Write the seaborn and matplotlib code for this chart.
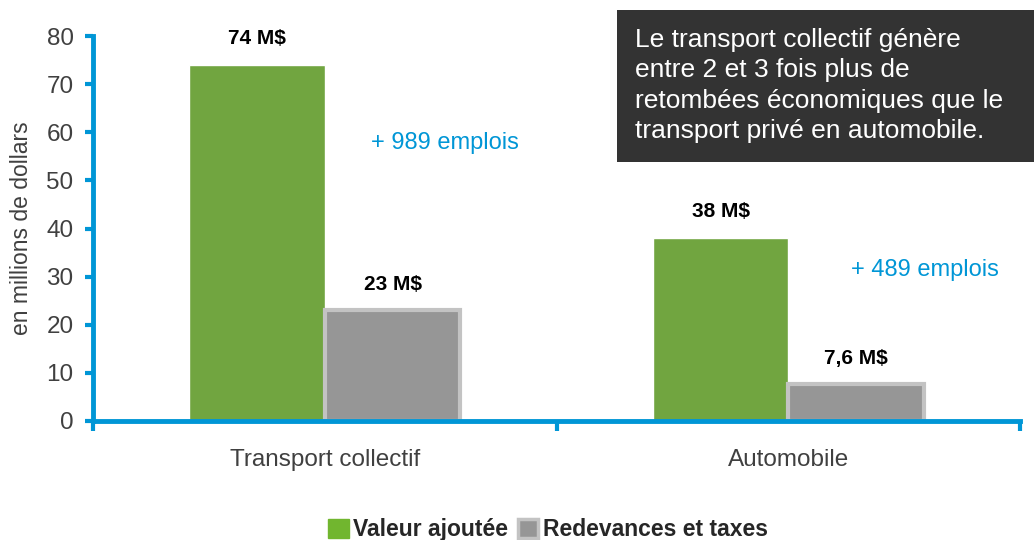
import matplotlib.pyplot as plt
import pandas as pd
import seaborn as sns
from matplotlib.patches import Patch, Rectangle

# data
categories = ["Transport collectif", "Automobile"]
series = ["Valeur ajoutée", "Redevances et taxes"]
valeur_ajoutee = [74, 38]
redevances = [23, 7.6]
bar_labels = {"Valeur ajoutée": ["74 M$", "38 M$"],
              "Redevances et taxes": ["23 M$", "7,6 M$"]}
emplois = ["+ 989 emplois", "+ 489 emplois"]
note = ("Le transport collectif génère\nentre 2 et 3 fois plus de\n"
        "retombées économiques que le\ntransport privé en automobile.")

df = pd.DataFrame({
    "categorie": categories * 2,
    "serie": [series[0]] * 2 + [series[1]] * 2,
    "valeur": valeur_ajoutee + redevances,
})

sns.set_style("white")
plt.rcParams["font.family"] = ["Liberation Sans", "DejaVu Sans"]

green = "#71b62f"
gray = "#969696"
gray_edge = "#c3c3c3"
blue = "#0096d6"
txt = "#404040"

fig, ax = plt.subplots(figsize=(10.34, 5.4), dpi=100)
fig.subplots_adjust(left=0.09, right=0.9865, bottom=0.2204, top=0.9333)

sns.barplot(data=df, x="categorie", y="valeur", hue="serie",
            palette=[green, gray], width=0.585, gap=0, ax=ax, legend=False)

# gray bars get a lighter border
for c, name in zip(ax.containers, series):
    if name == series[1]:
        for p in c.patches:
            p.set_edgecolor(gray_edge)
            p.set_linewidth(3)
    ax.bar_label(c, labels=bar_labels[name], padding=12,
                 fontsize=15, fontweight="bold", color="black")

ax.set_xlim(-0.5, 1.5)
ax.set_ylim(0, 80)
ax.set_yticks(range(0, 81, 10))
ax.set_xlabel("")
ax.set_ylabel("en millions de dollars", fontsize=16.5, color=txt, labelpad=10)

for s in ["top", "right"]:
    ax.spines[s].set_visible(False)
for s in ["left", "bottom"]:
    ax.spines[s].set_color(blue)
    ax.spines[s].set_linewidth(3.5)

ax.tick_params(axis="y", direction="out", length=6, width=3, color=blue,
               labelsize=17.5, labelcolor=txt, left=True, pad=8)
ax.tick_params(axis="x", which="major", length=0, labelsize=17.5,
               labelcolor=txt, pad=20)
ax.set_xticks([-0.5, 0.5, 1.5], minor=True)
ax.tick_params(axis="x", which="minor", direction="out", length=7, width=3,
               color=blue, bottom=True)

# emplois annotations
ax.text(0.259, 57.8, emplois[0], color=blue, fontsize=17, ha="center", va="center")
ax.text(1.295, 31.4, emplois[1], color=blue, fontsize=17, ha="center", va="center")

# dark note box
fig.patches.append(Rectangle((0.5967, 0.70), 0.41, 0.2815, transform=fig.transFigure,
                             facecolor="#333333", edgecolor="none", zorder=5))
fig.text(0.614, 0.948, note, color="white", fontsize=19, ha="left", va="top",
         linespacing=1.33, zorder=6)

handles = [Patch(facecolor=green, edgecolor=green),
           Patch(facecolor=gray, edgecolor=gray_edge, linewidth=2.5)]
fig.legend(handles, series, loc="lower center", bbox_to_anchor=(0.53, -0.04),
           ncol=2, frameon=False, handlelength=0.9, handleheight=0.9,
           handletextpad=0.2, columnspacing=0.4,
           prop={"weight": "bold", "size": 16.5})

fig.savefig("out.png", dpi=100)
